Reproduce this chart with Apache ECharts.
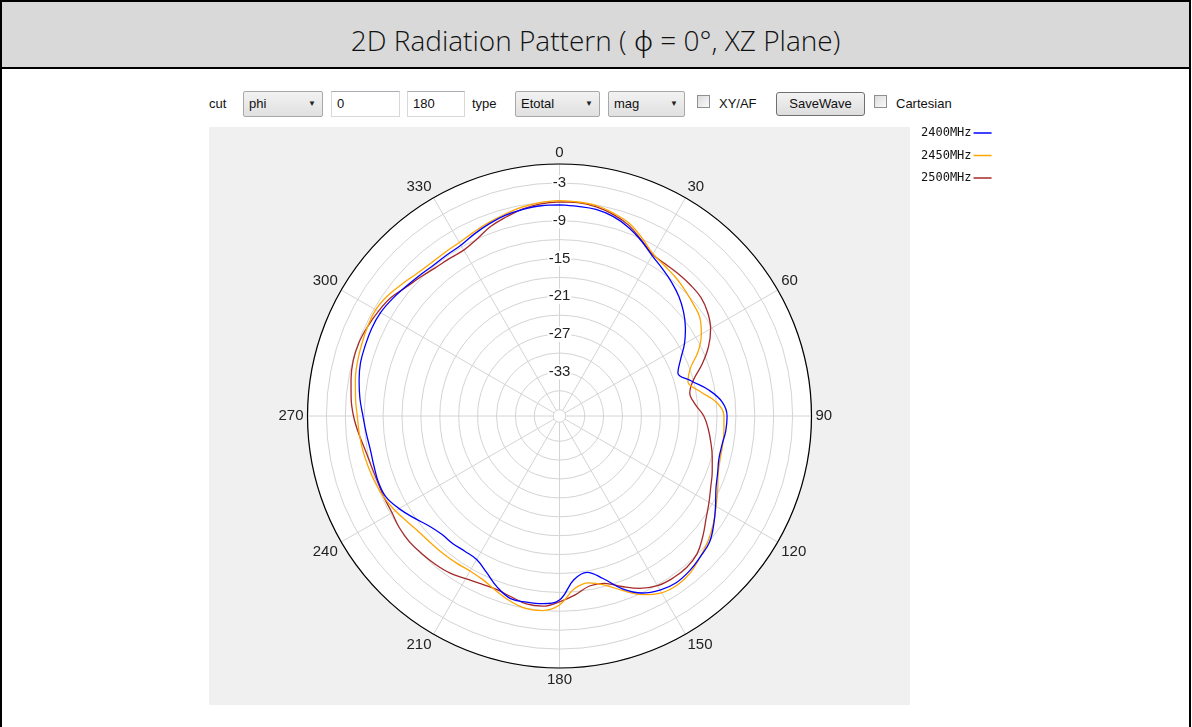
<!DOCTYPE html>
<html>
<head>
<meta charset="utf-8">
<script src="https://cdn.jsdelivr.net/npm/echarts@6/dist/echarts.min.js"></script>
<style>
  html, body { margin: 0; padding: 0; background: #fff; width: 1192px; height: 727px; overflow: hidden; }
  #frame { position: absolute; left: 0px; top: 0px; width: 1191px; height: 740px; border: 2px solid #000; box-sizing: border-box; }
  #titlebar { position: absolute; left: 0; top: 0; right: 0; height: 65px; background: #d9d9d9; border-bottom: 2px solid #000;
    font-family: "Open Sans", "Noto Sans", sans-serif; font-weight: 300; font-size: 28px; color: #111; text-align: center; line-height: 76px; }
  .tb { position: absolute; font-family: "Liberation Sans", Arial, sans-serif; font-size: 13px; color: #111; }
  .lbl { top: 96px; }
  .sel { top: 91px; height: 26px; box-sizing: border-box; border: 1px solid #a8a8a8; border-radius: 2px;
    background: linear-gradient(#f2f2f2, #e0e0e0); line-height: 24px; padding-left: 5px; }
  .sel::after { content: "\25BC"; position: absolute; right: 6px; top: 0; font-size: 8px; color: #222; }
  .inp { top: 91px; height: 26px; box-sizing: border-box; border: 1px solid #d8d8d8; border-top-color: #abadb3; background: #fff; line-height: 24px; padding-left: 5px; }
  .chk { top: 95px; width: 13px; height: 13px; box-sizing: border-box; border: 1px solid #8f8f8f; background: linear-gradient(135deg, #dcdcdc, #fafafa); }
  .btn { top: 92px; height: 24px; box-sizing: border-box; border: 1px solid #707070; border-radius: 3px; background: linear-gradient(#f3f3f3, #dddddd); line-height: 22px; text-align: center; }
  #chart { position: absolute; left: 200px; top: 120px; width: 820px; height: 600px; }
</style>
</head>
<body>
<div id="frame"><div id="titlebar">2D Radiation Pattern ( ϕ = 0°, XZ Plane)</div></div>

<div class="tb lbl" style="left:209px;">cut</div>
<div class="tb sel" style="left:243px;width:80px;">phi</div>
<div class="tb inp" style="left:331px;width:69px;">0</div>
<div class="tb inp" style="left:407px;width:58px;">180</div>
<div class="tb lbl" style="left:472px;">type</div>
<div class="tb sel" style="left:515px;width:85px;">Etotal</div>
<div class="tb sel" style="left:608px;width:77px;">mag</div>
<div class="tb chk" style="left:697px;"></div>
<div class="tb lbl" style="left:719px;">XY/AF</div>
<div class="tb btn" style="left:776px;width:89px;">SaveWave</div>
<div class="tb chk" style="left:874px;"></div>
<div class="tb lbl" style="left:896px;">Cartesian</div>

<div id="chart"></div>

<script>
// Angles (deg, clockwise from top) and gain (dB)
const angles = [0,5,10,15,20,25,30,35,40,45,50,55,60,65,70,75,80,85,90,95,100,105,110,115,120,125,130,135,140,145,150,155,160,165,170,175,180,185,190,195,200,205,210,215,220,225,230,235,240,245,250,255,260,265,270,275,280,285,290,295,300,305,310,315,320,325,330,335,340,345,350,355];

const gain2400 = [-6.5,-6.6,-6.7,-7.2,-8.1,-9.3,-10.6,-11.5,-12.3,-13.2,-14.3,-15.6,-17.1,-18.8,-20.0,-18.4,-16.0,-14.1,-13.4,-13.5,-13.8,-13.8,-13.3,-12.6,-11.4,-10.1,-8.9,-8.4,-7.9,-7.7,-8.1,-9.0,-10.8,-13.3,-14.8,-13.9,-10.8,-10.1,-10.0,-10.0,-11.1,-12.6,-13.7,-13.8,-13.6,-13.5,-12.9,-11.8,-10.6,-9.6,-9.4,-9.5,-9.5,-9.2,-8.8,-8.2,-7.7,-7.3,-7.2,-7.1,-7.2,-7.6,-8.1,-8.5,-8.8,-8.8,-8.7,-8.1,-7.5,-7.0,-6.7,-6.5];

const gain2450 = [-5.8,-5.9,-6.1,-6.7,-7.5,-8.9,-10.3,-10.9,-11.3,-11.8,-12.3,-12.8,-14.0,-15.7,-17.9,-18.9,-17.4,-15.0,-13.9,-13.8,-13.7,-13.6,-13.2,-12.3,-11.3,-10.2,-9.2,-8.4,-7.6,-7.3,-7.6,-8.7,-10.5,-12.2,-13.1,-12.5,-10.0,-9.0,-9.0,-9.6,-10.5,-11.3,-11.6,-11.5,-11.4,-11.3,-11.1,-10.6,-9.9,-9.3,-8.9,-8.6,-8.3,-8.1,-7.9,-7.5,-7.1,-6.8,-6.6,-6.4,-6.3,-6.7,-7.4,-8.0,-8.3,-8.3,-8.2,-7.8,-7.3,-6.8,-6.3,-5.95];

const gain2500 = [-6.0,-6.0,-6.3,-6.9,-7.8,-9.2,-10.4,-10.6,-10.6,-10.6,-10.7,-11.3,-12.3,-13.9,-15.9,-18.0,-19.0,-18.4,-17.1,-16.3,-15.6,-14.9,-14.2,-13.5,-12.6,-11.6,-10.3,-9.1,-8.6,-8.6,-8.9,-9.8,-11.2,-12.5,-12.6,-11.5,-10.5,-9.7,-9.7,-10.3,-10.7,-10.6,-10.2,-9.6,-9.3,-9.1,-8.9,-9.0,-9.3,-9.3,-9.3,-9.1,-8.7,-8.0,-7.3,-6.8,-6.4,-6.1,-6.1,-6.4,-6.8,-7.3,-8.2,-8.8,-9.3,-9.5,-9.6,-9.0,-8.0,-7.3,-6.6,-6.2];

const seriesNames = ['2400MHz', '2450MHz', '2500MHz'];
const seriesColors = ['#0000ff', '#ffa500', '#a52a2a'];
const radiusTickLabels = [-3,-9,-15,-21,-27,-33];

function toPolar(vals) {
  const d = angles.map((a, i) => [vals[i], a]);
  d.push([vals[0], 360]);
  return d;
}

const CX = 359.5, CY = 296, R = 252;
const chart = echarts.init(document.getElementById('chart'), null, { renderer: 'canvas' });
const tickFont = '"Liberation Sans", Arial, sans-serif';

chart.setOption({
  animation: false,
  backgroundColor: 'transparent',
  graphic: [
    { type: 'rect', z: -10, silent: true, shape: { x: 9, y: 7, width: 701, height: 578 }, style: { fill: '#f0f0f0' } },
    { type: 'circle', z: -9, silent: true, shape: { cx: CX, cy: CY, r: R }, style: { fill: '#ffffff' } },
    { type: 'circle', z: 50, silent: true, shape: { cx: CX, cy: CY, r: R }, style: { fill: null, stroke: '#000', lineWidth: 1.2 } }
  ],
  legend: {
    orient: 'vertical',
    left: 716, top: 1,
    align: 'right',
    itemGap: 8.5,
    itemWidth: 18, itemHeight: 1.5,
    icon: 'rect',
    textStyle: { fontFamily: '"DejaVu Sans Mono", monospace', fontSize: 12, color: '#111', lineHeight: 14, padding: [0, -3, 0, 0] },
    data: seriesNames
  },
  polar: { center: [CX, CY], radius: [6.3, R] },
  angleAxis: {
    type: 'value', min: 0, max: 360, interval: 30, startAngle: 90, clockwise: true,
    axisLine: { show: false },
    axisTick: { show: false },
    axisLabel: { show: true, margin: 4, align: 'center', verticalAlign: 'middle',
      color: '#222', fontSize: 15, fontFamily: tickFont,
      formatter: v => (v >= 360 ? '' : String(v)) },
    splitLine: { show: true, lineStyle: { color: '#d4d4d4', width: 1 } }
  },
  radiusAxis: {
    type: 'value', min: -39, max: 0, interval: 3,
    axisLine: { show: false },
    axisTick: { show: false },
    axisLabel: {
      show: true, margin: 0, align: 'center', verticalAlign: 'middle',
      color: '#222', fontSize: 15, fontFamily: tickFont,
      backgroundColor: '#ffffff', padding: [0, 1],
      formatter: v => (radiusTickLabels.indexOf(v) >= 0 ? String(v) : '')
    },
    splitLine: { show: true, lineStyle: { color: '#d4d4d4', width: 1 } },
    z: 5
  },
  series: [gain2400, gain2450, gain2500].map((g, i) => ({
    name: seriesNames[i],
    type: 'line',
    coordinateSystem: 'polar',
    data: toPolar(g),
    smooth: 0.4,
    showSymbol: false,
    color: seriesColors[i],
    lineStyle: { color: seriesColors[i], width: 1.3 },
    z: 10 - i
  }))
});
</script>
</body>
</html>
